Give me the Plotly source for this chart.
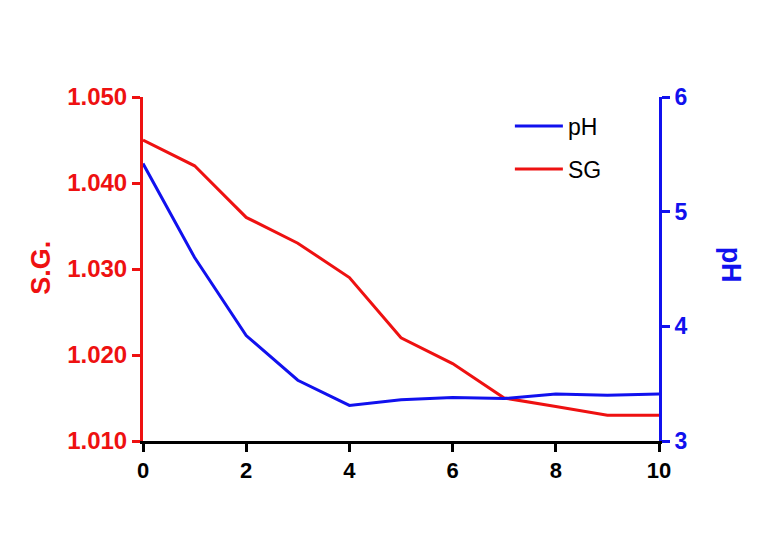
import plotly.graph_objects as go

days = [0, 1, 2, 3, 4, 5, 6, 7, 8, 9, 10]
sg = [1.045, 1.042, 1.036, 1.033, 1.029, 1.022, 1.019, 1.015, 1.014, 1.013, 1.013]
ph = [5.42, 4.60, 3.92, 3.53, 3.31, 3.36, 3.38, 3.37, 3.41, 3.40, 3.41]
sg_ticks = [1.010, 1.020, 1.030, 1.040, 1.050]
ph_ticks = [3, 4, 5, 6]
x_ticks = [0, 2, 4, 6, 8, 10]

FONT = "Arial, Liberation Sans, sans-serif"
RED = "#ee1111"
BLUE = "#1111ee"

fig = go.Figure()
fig.add_trace(go.Scatter(x=days, y=ph, name="pH", mode="lines", legendgroup="a",
                         line=dict(color=BLUE, width=3), yaxis="y2"))
fig.add_trace(go.Scatter(x=days, y=sg, name="SG", mode="lines", legendgroup="b",
                         line=dict(color=RED, width=3), yaxis="y"))

fig.update_layout(
    width=768, height=548,
    margin=dict(l=143, r=109, t=97, b=107),
    paper_bgcolor="white", plot_bgcolor="white",
    font=dict(family=FONT),
    showlegend=True,
    legend=dict(x=0.711, y=0.978, xanchor="left", yanchor="top",
                bgcolor="rgba(0,0,0,0)", font=dict(size=23, color="black"),
                traceorder="grouped", itemwidth=48, tracegroupgap=10),
    xaxis=dict(range=[0, 10], tickvals=x_ticks, showgrid=False, zeroline=False,
               showline=True, linecolor="black", linewidth=3,
               ticks="outside", ticklen=8, tickwidth=3, tickcolor="black",
               tickfont=dict(size=22, color="black", family=FONT, weight="bold")),
    yaxis=dict(range=[1.010, 1.050], tickvals=sg_ticks, tickformat=".3f",
               showgrid=False, zeroline=False,
               showline=True, linecolor=RED, linewidth=3,
               ticks="outside", ticklen=8, tickwidth=3, tickcolor=RED,
               tickfont=dict(size=24, color=RED, family=FONT, weight="bold")),
    yaxis2=dict(range=[3, 6], tickvals=ph_ticks, overlaying="y", side="right",
                showgrid=False, zeroline=False,
                showline=True, linecolor=BLUE, linewidth=3,
                ticks="outside", ticklen=8, tickwidth=3, tickcolor=BLUE,
                tickfont=dict(size=23, color=BLUE, family=FONT, weight="bold")),
    annotations=[
        dict(text="<b>S.G.</b>", xref="paper", yref="paper", x=-0.198, y=0.503,
             xanchor="center", yanchor="middle", textangle=-90, showarrow=False,
             font=dict(size=27, color=RED, family=FONT)),
        dict(text="<b>pH</b>", xref="paper", yref="paper", x=1.14, y=0.512,
             xanchor="center", yanchor="middle", textangle=90, showarrow=False,
             font=dict(size=27, color=BLUE, family=FONT)),
    ],
)

fig.write_html("out.html")
